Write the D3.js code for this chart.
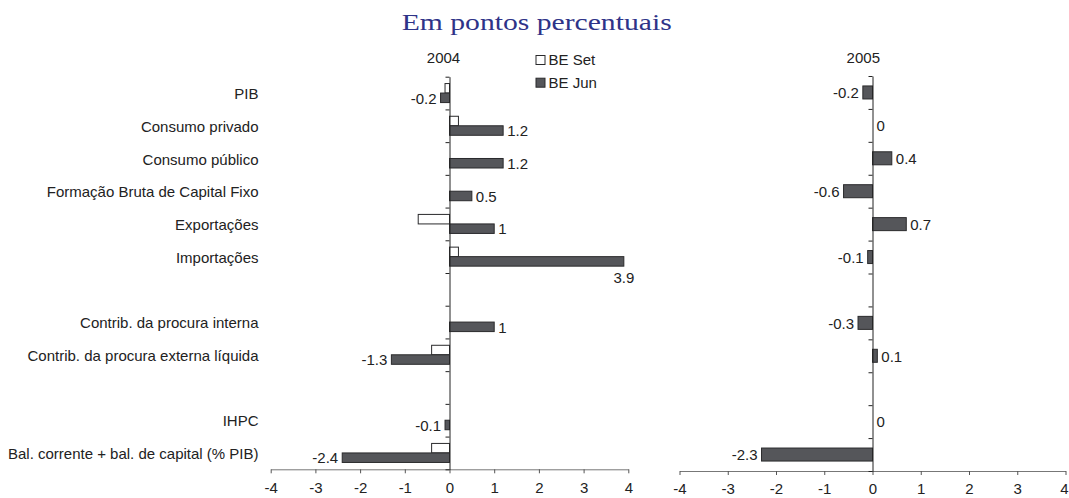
<!DOCTYPE html>
<html>
<head>
<meta charset="utf-8">
<script src="https://cdn.jsdelivr.net/npm/d3@7"></script>
<style>
  html, body { margin: 0; padding: 0; background: #fff; }
  svg { display: block; }
  text { font-family: "Liberation Sans", Arial, sans-serif; fill: #222; }
</style>
</head>
<body>
<div id="chart"></div>
<script>
// Rows of the chart (empty strings are spacer rows)
const categories = [
  "PIB",
  "Consumo privado",
  "Consumo público",
  "Formação Bruta de Capital Fixo",
  "Exportações",
  "Importações",
  "",
  "Contrib. da procura interna",
  "Contrib. da procura externa líquida",
  "",
  "IHPC",
  "Bal. corrente + bal. de capital (% PIB)"
];

// 2004 projections
const beSet2004 = [-0.1, 0.2, 0, 0, -0.7, 0.2, null, 0, -0.4, null, 0, -0.4];
const beJun2004 = [-0.2, 1.2, 1.2, 0.5, 1, 3.9, null, 1, -1.3, null, -0.1, -2.4];

// 2005 projections
const beJun2005 = [-0.2, 0, 0.4, -0.6, 0.7, -0.1, null, -0.3, 0.1, null, 0, -2.3];

const xTicks = [-4, -3, -2, -1, 0, 1, 2, 3, 4];
const legendLabels = ["BE Set", "BE Jun"];
const panelTitles = ["2004", "2005"];

const W = 1069, H = 498;
const FS = 15;
const darkFill = "#55565a", darkStroke = "#2a2a2c";

const svg = d3.select("#chart").append("svg")
  .attr("width", W).attr("height", H);

// Title
svg.append("text")
  .attr("x", 536.7).attr("y", 29.5)
  .attr("text-anchor", "middle")
  .attr("textLength", 270).attr("lengthAdjust", "spacingAndGlyphs")
  .style("font-family", "'Liberation Serif', 'DejaVu Serif', serif")
  .style("font-size", "24px")
  .style("fill", "#2e3388")
  .text("Em pontos percentuais");

function drawPanel(cfg) {
  const g = svg.append("g");
  const x = d3.scaleLinear().domain([-4, 4]).range([cfg.x0, cfg.x1]);
  const y = d3.scaleBand().domain(d3.range(categories.length)).range([cfg.top, cfg.bottom]);
  const yEdge = d3.scaleLinear().domain([0, categories.length]).range([cfg.top, cfg.bottom]);
  const sub = d3.scaleBand().domain(cfg.series.map(s => s.key))
    .range([0, y.bandwidth()]).paddingInner(0).paddingOuter(cfg.outerPad);

  // x axis
  const xAxis = g.append("g")
    .attr("transform", `translate(0,${cfg.bottom})`)
    .call(d3.axisBottom(x).tickValues(xTicks).tickSize(4).tickSizeOuter(0)
      .tickPadding(cfg.tickPad).tickFormat(d => String(d)));
  xAxis.select(".domain").attr("stroke", "#777");
  xAxis.selectAll(".tick line").attr("stroke", "#555");
  xAxis.selectAll(".tick text")
    .style("font-family", "'Liberation Sans', Arial, sans-serif")
    .style("font-size", FS + "px").attr("fill", "#222");
  if (cfg.lastTickShift) {
    xAxis.selectAll(".tick text").filter(d => d === xTicks[xTicks.length - 1])
      .attr("dx", cfg.lastTickShift);
  }

  // bars
  cfg.series.forEach(s => {
    g.append("g").selectAll("rect")
      .data(s.values.map((v, i) => ({ v, i })).filter(d => d.v !== null && d.v !== 0))
      .join("rect")
      .attr("x", d => x(Math.min(0, d.v)))
      .attr("width", d => Math.abs(x(d.v) - x(0)))
      .attr("y", d => y(d.i) + sub(s.key))
      .attr("height", sub.bandwidth())
      .attr("fill", s.fill)
      .attr("stroke", s.stroke)
      .attr("stroke-width", 1);
  });

  // y axis at zero
  const yAxis = g.append("g")
    .attr("transform", `translate(${x(0)},0)`)
    .call(d3.axisLeft(yEdge).tickValues(d3.range(categories.length + 1))
      .tickSize(4).tickSizeOuter(0).tickFormat(""));
  yAxis.select(".domain").attr("stroke", "#222");
  yAxis.selectAll(".tick line").attr("stroke", "#222");

  // value labels for the labelled series
  const ls = cfg.series.find(s => s.labelled);
  const lab = ls.values.map((v, i) => ({ v, i })).filter(d => d.v !== null);
  g.append("g").selectAll("text")
    .data(lab)
    .join("text")
    .style("font-size", FS + "px")
    .attr("x", d => {
      if (cfg.below && cfg.below.includes(d.i)) return x(d.v);
      return d.v < 0 ? x(d.v) - 4 : x(d.v) + 4;
    })
    .attr("y", d => {
      const c = y(d.i) + sub(ls.key) + sub.bandwidth() / 2 + 0.5;
      return (cfg.below && cfg.below.includes(d.i)) ? c + 16 : c;
    })
    .attr("dy", "0.35em")
    .attr("text-anchor", d => {
      if (cfg.below && cfg.below.includes(d.i)) return "middle";
      return d.v < 0 ? "end" : "start";
    })
    .text(d => String(d.v));

  // panel heading
  g.append("text")
    .attr("x", cfg.titleX).attr("y", 57.5).attr("dy", "0.35em")
    .attr("text-anchor", "middle")
    .style("font-size", FS + "px")
    .text(cfg.title);

  return y;
}

const y2004 = drawPanel({
  x0: 270.7, x1: 628.3, top: 76.7, bottom: 469.3, outerPad: 0.72, tickPad: 9.5,
  title: panelTitles[0], titleX: 443.5, below: [5],
  series: [
    { key: "set", values: beSet2004, fill: "#fff", stroke: "#2a2a2c" },
    { key: "jun", values: beJun2004, fill: darkFill, stroke: darkStroke, labelled: true }
  ]
});

drawPanel({
  x0: 679.5, x1: 1065.5, top: 76, bottom: 471, outerPad: 0.765, tickPad: 8,
  title: panelTitles[1], titleX: 863.3, lastTickShift: -1.5,
  series: [
    { key: "jun", values: beJun2005, fill: darkFill, stroke: darkStroke, labelled: true }
  ]
});

// Category labels
svg.append("g").selectAll("text")
  .data(categories.map((c, i) => ({ c, i })).filter(d => d.c !== ""))
  .join("text")
  .attr("x", 258.5)
  .attr("y", d => y2004(d.i) + y2004.bandwidth() / 2 + 1)
  .attr("dy", "0.35em")
  .attr("text-anchor", "end")
  .style("font-size", FS + "px")
  .text(d => d.c);

// Legend
const legend = svg.append("g").attr("transform", "translate(535.5,55)");
const legendFills = ["#fff", darkFill];
legendLabels.forEach((name, i) => {
  const row = legend.append("g").attr("transform", `translate(0,${i * 22.7})`);
  row.append("rect").attr("x", 0.5).attr("y", 0.5).attr("width", 9).attr("height", 9)
    .attr("fill", legendFills[i]).attr("stroke", "#2a2a2c");
  row.append("text").attr("x", 13).attr("y", 5).attr("dy", "0.35em")
    .style("font-size", FS + "px").text(name);
});
</script>
</body>
</html>
